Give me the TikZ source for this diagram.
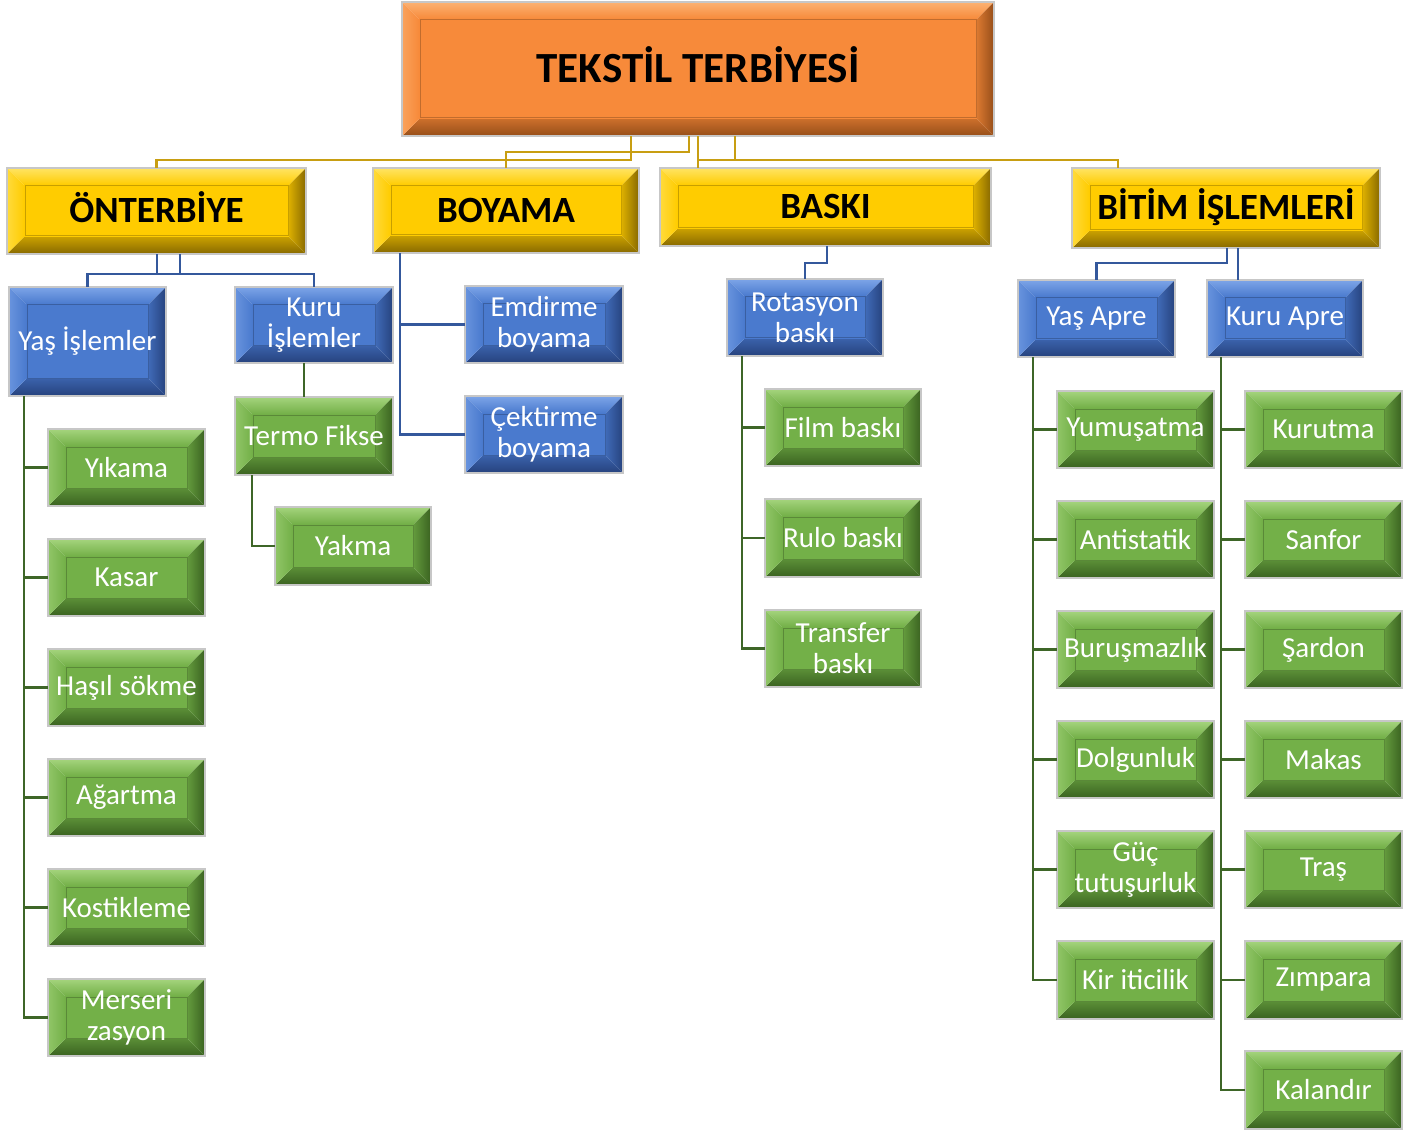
\documentclass[tikz,border=0pt]{standalone}
\usepackage{fontspec}
\setmainfont{Carlito}
\definecolor{orface}{RGB}{247,138,58}
\definecolor{orlight}{RGB}{252,178,115}
\definecolor{ordark}{RGB}{150,78,25}
\definecolor{yeface}{RGB}{255,204,0}
\definecolor{yelight}{RGB}{255,228,100}
\definecolor{yedark}{RGB}{135,105,0}
\definecolor{blface}{RGB}{74,122,206}
\definecolor{bllight}{RGB}{125,165,232}
\definecolor{bldark}{RGB}{38,66,125}
\definecolor{grface}{RGB}{115,176,72}
\definecolor{grlight}{RGB}{165,212,125}
\definecolor{grdark}{RGB}{58,98,32}
\definecolor{goldc}{RGB}{200,158,18}
\definecolor{bluecon}{RGB}{52,88,156}
\definecolor{greencon}{RGB}{62,102,40}
\newcommand{\bbox}[8]{%
  \shade[top color=#6light, bottom color=#6face] (#2,#3) -- (#4,#3) -- (#4-17,#3+17) -- (#2+17,#3+17) -- cycle;
  \shade[top color=#6face!55!#6dark, bottom color=#6dark] (#2,#5) -- (#4,#5) -- (#4-17,#5-17) -- (#2+17,#5-17) -- cycle;
  \shade[left color=#6light!60!#6face, right color=#6face] (#2,#3) -- (#2+17,#3+17) -- (#2+17,#5-17) -- (#2,#5) -- cycle;
  \shade[left color=#6face!70!#6dark, right color=#6dark] (#4,#3) -- (#4-17,#3+17) -- (#4-17,#5-17) -- (#4,#5) -- cycle;
  \fill[#6face] (#2+17,#3+17) rectangle (#4-17,#5-17);
  \draw[#6face!78!black, line width=1] (#2+18,#3+18) rectangle (#4-18,#5-18);
  \draw[black!22, line width=1.5] (#2,#3) rectangle (#4,#5);
  \node[inner sep=0, minimum width={(#4-#2)*1pt}, minimum height={(#5-#3)*1pt}, align=center, #7] (#1) at ({(#2+#4)/2},{(#3+#5)/2}) {#8};
}
\tikzset{
  toptext/.style={font=\fontsize{43}{50}\selectfont\bfseries, text=black, text height=27.5pt, text depth=0pt},
  lvltext/.style={font=\fontsize{37}{44}\selectfont\bfseries, text=black, text height=24pt, text depth=0pt},
  wtext/.style={font=\fontsize{29}{31}\selectfont, text=white},
  goldline/.style={draw=goldc, line width=2.5},
  blueline/.style={draw=bluecon, line width=2.5},
  greenline/.style={draw=greencon, line width=2.5},
}
\begin{document}
\begin{tikzpicture}[x=1pt,y=-1pt]
\useasboundingbox (0,0) rectangle (1426,1131);
% main
\bbox{top}{402}{2}{994}{136}{or}{toptext}{TEKSTİL TERBİYESİ}
% level 1
\bbox{ont}{7}{168}{306}{254}{ye}{lvltext}{ÖNTERBİYE}
\bbox{boy}{373}{168}{639}{253}{ye}{lvltext}{BOYAMA}
\bbox{bas}{660}{168}{991}{246}{ye}{lvltext}{BASKI}
\bbox{bit}{1072}{168}{1380}{248}{ye}{lvltext}{BİTİM İŞLEMLERİ}
% level 2 blue
\bbox{yasis}{9}{287}{166}{396}{bl}{wtext}{Yaş İşlemler}
\bbox{kuruis}{235}{287}{393}{363}{bl}{wtext}{Kuru\\İşlemler}
\bbox{emd}{465}{286}{623}{363}{bl}{wtext}{Emdirme\\boyama}
\bbox{cek}{465}{396}{623}{473}{bl}{wtext}{Çektirme\\boyama}
\bbox{rot}{727}{279}{883}{356}{bl}{wtext}{Rotasyon\\baskı}
\bbox{yasap}{1018}{280}{1175}{357}{bl}{wtext}{Yaş Apre}
\bbox{kuruap}{1207}{280}{1363}{357}{bl}{wtext}{Kuru Apre}
% green: kuru islemler
\bbox{termo}{235}{397}{393}{475}{gr}{wtext}{Termo Fikse}
\bbox{yakma}{275}{507}{431}{585}{gr}{wtext}{Yakma}
% green: yas islemler
\bbox{yik}{48}{429}{205}{506}{gr}{wtext}{Yıkama}
\bbox{kas}{48}{539}{205}{616}{gr}{wtext}{Kasar}
\bbox{has}{48}{649}{205}{726}{gr}{wtext}{Haşıl sökme}
\bbox{aga}{48}{759}{205}{836}{gr}{wtext}{Ağartma}
\bbox{kos}{48}{869}{205}{946}{gr}{wtext}{Kostikleme}
\bbox{mer}{48}{979}{205}{1056}{gr}{wtext}{Merseri\\zasyon}
% green: rotasyon
\bbox{film}{765}{389}{921}{466}{gr}{wtext}{Film baskı}
\bbox{rulo}{765}{499}{921}{577}{gr}{wtext}{Rulo baskı}
\bbox{trans}{765}{610}{921}{687}{gr}{wtext}{Transfer\\baskı}
% green: yas apre
\bbox{yum}{1057}{391}{1214}{468}{gr}{wtext}{Yumuşatma}
\bbox{ant}{1057}{501}{1214}{578}{gr}{wtext}{Antistatik}
\bbox{bur}{1057}{611}{1214}{688}{gr}{wtext}{Buruşmazlık}
\bbox{dol}{1057}{721}{1214}{798}{gr}{wtext}{Dolgunluk}
\bbox{guc}{1057}{831}{1214}{908}{gr}{wtext}{Güç\\tutuşurluk}
\bbox{kir}{1057}{941}{1214}{1019}{gr}{wtext}{Kir iticilik}
% green: kuru apre
\bbox{kur}{1245}{391}{1402}{468}{gr}{wtext}{Kurutma}
\bbox{san}{1245}{501}{1402}{578}{gr}{wtext}{Sanfor}
\bbox{sar}{1245}{611}{1402}{688}{gr}{wtext}{Şardon}
\bbox{mak}{1245}{721}{1402}{798}{gr}{wtext}{Makas}
\bbox{tra}{1245}{831}{1402}{908}{gr}{wtext}{Traş}
\bbox{zim}{1245}{941}{1402}{1019}{gr}{wtext}{Zımpara}
\bbox{kal}{1245}{1051}{1402}{1129}{gr}{wtext}{Kalandır}
% gold connectors
\draw[goldline] (631,0 |- top.south) -- ++(0,24) -| (ont.north);
\draw[goldline] (689,0 |- top.south) -- ++(0,16) -| (boy.north);
\draw[goldline] (735,0 |- top.south) -- ++(0,24) -| (698,0 |- bas.north);
\draw[goldline] (698,0 |- top.south) -- ++(0,24) -| (1118,0 |- bit.north);
% blue connectors
\draw[blueline] (180,0 |- ont.south) -- ++(0,20) -| (yasis.north);
\draw[blueline] (157,0 |- ont.south) -- ++(0,20) -| (kuruis.north);
\draw[blueline] (400,0 |- boy.south) |- (emd.west);
\draw[blueline] (400,0 |- boy.south) |- (cek.west);
\draw[blueline] (827,0 |- bas.south) -- ++(0,17) -| (rot.north);
\draw[blueline] (1227,0 |- bit.south) -- ++(0,15) -| (yasap.north);
\draw[blueline] (1238,0 |- bit.south) -- (1238,0 |- kuruap.north);
% green connectors
\draw[greenline] (304,0 |- kuruis.south) -- (304,0 |- termo.north);
\draw[greenline] (252,0 |- termo.south) |- (yakma.west);
\foreach \n in {yik,kas,has,aga,kos,mer}
  \draw[greenline] (24,0 |- yasis.south) |- (\n.west);
\foreach \n in {film,rulo,trans}
  \draw[greenline] (742,0 |- rot.south) |- (\n.west);
\foreach \n in {yum,ant,bur,dol,guc,kir}
  \draw[greenline] (1033,0 |- yasap.south) |- (\n.west);
\foreach \n in {kur,san,sar,mak,tra,zim,kal}
  \draw[greenline] (1221,0 |- kuruap.south) |- (\n.west);
\end{tikzpicture}
\end{document}
